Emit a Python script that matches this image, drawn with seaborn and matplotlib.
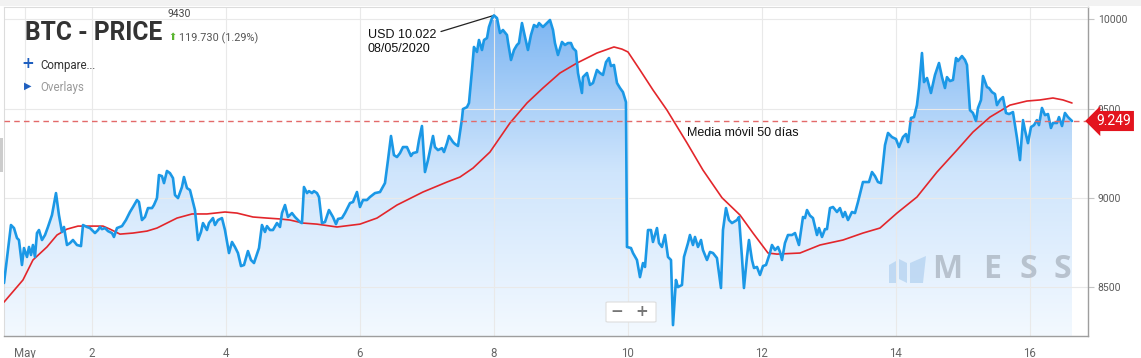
import matplotlib
matplotlib.use('Agg')
import matplotlib.pyplot as plt
import matplotlib.transforms as mtransforms
from matplotlib.colors import LinearSegmentedColormap
from matplotlib.patches import Polygon, Rectangle, FancyBboxPatch
import numpy as np
import pandas as pd
import seaborn as sns

# BTC price (day of May 2020, USD)
price_day = [0.687, 0.791, 0.836, 0.881, 0.910, 0.955, 0.985, 1.030, 1.060, 1.090,
             1.119, 1.149, 1.179, 1.209, 1.254, 1.299, 1.343, 1.403, 1.463, 1.507,
             1.552, 1.582, 1.627, 1.672, 1.716, 1.776, 1.836, 1.866, 1.925, 1.970,
             2.045, 2.090, 2.119, 2.149, 2.194, 2.239, 2.299, 2.328, 2.373, 2.448,
             2.507, 2.567, 2.612, 2.672, 2.701, 2.746, 2.791, 2.836, 2.896, 2.925,
             2.970, 3.000, 3.045, 3.075, 3.119, 3.164, 3.209, 3.239, 3.284, 3.343,
             3.373, 3.418, 3.463, 3.537, 3.582, 3.627, 3.657, 3.716, 3.746, 3.806,
             3.836, 3.881, 3.940, 3.985, 4.045, 4.090, 4.134, 4.179, 4.224, 4.269,
             4.328, 4.373, 4.418, 4.493, 4.537, 4.582, 4.612, 4.657, 4.701, 4.761,
             4.806, 4.836, 4.881, 4.925, 4.985, 5.030, 5.104, 5.134, 5.164, 5.209,
             5.239, 5.284, 5.313, 5.358, 5.388, 5.433, 5.478, 5.537, 5.597, 5.642,
             5.672, 5.731, 5.776, 5.851, 5.896, 5.955, 6.000, 6.045, 6.104, 6.149,
             6.224, 6.299, 6.373, 6.418, 6.463, 6.507, 6.552, 6.597, 6.642, 6.701,
             6.761, 6.791, 6.851, 6.881, 6.925, 6.970, 7.015, 7.090, 7.119, 7.164,
             7.224, 7.254, 7.299, 7.328, 7.388, 7.418, 7.463, 7.522, 7.537, 7.597,
             7.627, 7.672, 7.701, 7.746, 7.776, 7.821, 7.851, 7.896, 7.925, 7.970,
             8.000, 8.045, 8.090, 8.134, 8.194, 8.209, 8.254, 8.299, 8.343, 8.373,
             8.418, 8.463, 8.507, 8.552, 8.597, 8.642, 8.672, 8.731, 8.791, 8.836,
             8.881, 8.910, 8.955, 9.015, 9.060, 9.104, 9.149, 9.179, 9.224, 9.254,
             9.313, 9.328, 9.388, 9.433, 9.478, 9.537, 9.582, 9.627, 9.672, 9.716,
             9.746, 9.791, 9.836, 9.881, 9.925, 9.970, 9.985, 10.045, 10.075, 10.134,
             10.179, 10.224, 10.254, 10.299, 10.343, 10.373, 10.433, 10.463, 10.507, 10.552,
             10.597, 10.642, 10.672, 10.716, 10.746, 10.806, 10.836, 10.896, 10.925, 10.970,
             11.000, 11.045, 11.090, 11.119, 11.179, 11.224, 11.269, 11.328, 11.388, 11.418,
             11.463, 11.507, 11.552, 11.627, 11.657, 11.701, 11.731, 11.776, 11.806, 11.851,
             11.881, 11.925, 11.970, 12.015, 12.060, 12.119, 12.149, 12.194, 12.239, 12.269,
             12.299, 12.343, 12.388, 12.448, 12.493, 12.552, 12.612, 12.642, 12.672, 12.716,
             12.761, 12.821, 12.851, 12.896, 12.940, 12.970, 13.015, 13.060, 13.119, 13.164,
             13.209, 13.239, 13.284, 13.343, 13.388, 13.433, 13.507, 13.567, 13.597, 13.642,
             13.687, 13.731, 13.776, 13.836, 13.881, 13.940, 14.000, 14.045, 14.104, 14.149,
             14.179, 14.224, 14.269, 14.313, 14.343, 14.388, 14.418, 14.463, 14.522, 14.582,
             14.642, 14.687, 14.731, 14.761, 14.806, 14.851, 14.896, 14.925, 14.985, 15.030,
             15.060, 15.104, 15.149, 15.194, 15.224, 15.269, 15.299, 15.358, 15.388, 15.433,
             15.478, 15.507, 15.552, 15.597, 15.642, 15.687, 15.746, 15.806, 15.851, 15.896,
             15.925, 15.970, 16.015, 16.060, 16.104, 16.134, 16.179, 16.224, 16.269, 16.313,
             16.343, 16.403, 16.433, 16.478, 16.522, 16.567, 16.627]
price_usd = [8522, 8847, 8830, 8774, 8763, 8623, 8718, 8668, 8724, 8679,
             8735, 8668, 8802, 8819, 8763, 8791, 8836, 8903, 9026, 8903,
             8808, 8836, 8735, 8746, 8763, 8735, 8729, 8847, 8836, 8830,
             8802, 8819, 8836, 8824, 8830, 8813, 8802, 8780, 8830, 8841,
             8875, 8920, 8948, 8987, 8976, 8875, 8892, 8942, 8942, 8959,
             8998, 9127, 9121, 9082, 9150, 9138, 9110, 9015, 8998, 9060,
             9116, 9054, 9043, 8931, 8763, 8808, 8858, 8819, 8858, 8886,
             8847, 8875, 8886, 8819, 8690, 8752, 8724, 8690, 8617, 8623,
             8701, 8651, 8634, 8718, 8847, 8808, 8841, 8819, 8819, 8858,
             8836, 8914, 8959, 8892, 8914, 8892, 8864, 8858, 9060, 9026,
             9037, 9026, 9037, 9026, 9004, 8858, 8864, 8931, 8892, 8852,
             8881, 8886, 8914, 8970, 8976, 9032, 8948, 8987, 8987, 9004,
             9026, 9032, 9082, 9211, 9346, 9239, 9228, 9250, 9284, 9284,
             9234, 9250, 9256, 9323, 9402, 9144, 9211, 9346, 9284, 9267,
             9278, 9256, 9306, 9346, 9312, 9301, 9290, 9441, 9497, 9508,
             9531, 9716, 9845, 9817, 9884, 9828, 9884, 9895, 9957, 10007,
             10022, 10007, 9923, 9940, 9912, 9873, 9772, 9828, 9856, 9867,
             9979, 9901, 9828, 9912, 9968, 9957, 9979, 9957, 9979, 9996,
             9940, 9867, 9800, 9873, 9856, 9867, 9867, 9839, 9822, 9699,
             9587, 9676, 9699, 9632, 9643, 9716, 9699, 9688, 9760, 9783,
             9738, 9744, 9643, 9615, 9592, 9536, 8724, 8718, 8690, 8651,
             8555, 8634, 8612, 8819, 8819, 8752, 8830, 8746, 8724, 8791,
             8668, 8651, 8286, 8539, 8499, 8511, 8668, 8746, 8791, 8735,
             8780, 8724, 8763, 8707, 8651, 8696, 8690, 8662, 8494, 8819,
             8942, 8875, 8858, 8875, 8892, 8668, 8494, 8668, 8763, 8651,
             8606, 8612, 8567, 8617, 8623, 8690, 8735, 8707, 8724, 8696,
             8651, 8746, 8791, 8791, 8802, 8735, 8892, 8886, 8931, 8900,
             8886, 8791, 8830, 8780, 8824, 8824, 8942, 8948, 8920, 8942,
             8892, 8920, 8875, 8920, 8914, 8976, 9088, 9088, 9088, 9144,
             9121, 9088, 9082, 9295, 9363, 9340, 9329, 9284, 9340, 9357,
             9312, 9447, 9452, 9519, 9615, 9811, 9648, 9671, 9587, 9688,
             9755, 9676, 9615, 9676, 9654, 9660, 9783, 9766, 9794, 9772,
             9744, 9491, 9475, 9430, 9503, 9548, 9682, 9620, 9615, 9592,
             9581, 9519, 9548, 9564, 9475, 9469, 9480, 9335, 9211, 9435,
             9379, 9306, 9396, 9407, 9435, 9407, 9503, 9463, 9469, 9391,
             9419, 9419, 9452, 9402, 9475, 9452, 9430]

# 50-day moving average
ma_day = [0.687, 0.970, 1.119, 1.328, 1.478, 1.627, 1.791, 1.970, 2.164, 2.269,
          2.418, 2.612, 2.821, 2.970, 3.119, 3.269, 3.493, 3.716, 3.985, 4.164,
          4.403, 4.612, 4.806, 4.955, 5.149, 5.358, 5.657, 6.000, 6.254, 6.552,
          6.940, 7.299, 7.493, 7.687, 7.940, 8.239, 8.493, 8.731, 8.985, 9.239,
          9.537, 9.791, 9.910, 10.000, 10.179, 10.373, 10.582, 10.881, 11.119, 11.403,
          11.672, 11.866, 12.090, 12.224, 12.567, 12.866, 13.209, 13.507, 13.761, 14.015,
          14.313, 14.612, 14.910, 15.149, 15.403, 15.701, 15.955, 16.149, 16.343, 16.493,
          16.627]
ma_usd = [8415, 8539, 8651, 8724, 8791, 8824, 8841, 8841, 8841, 8824,
          8796, 8802, 8813, 8830, 8858, 8886, 8909, 8909, 8920, 8914,
          8892, 8886, 8881, 8875, 8858, 8852, 8836, 8852, 8886, 8959,
          9032, 9088, 9116, 9166, 9256, 9419, 9531, 9615, 9699, 9755,
          9811, 9845, 9833, 9817, 9716, 9604, 9491, 9307, 9155, 9000,
          8903, 8802, 8690, 8684, 8690, 8735, 8763, 8802, 8830, 8914,
          9004, 9144, 9267, 9368, 9452, 9519, 9542, 9548, 9559, 9548,
          9531]

x_ticks = [1, 2, 4, 6, 8, 10, 12, 14, 16]
x_tick_labels = ['May', '2', '4', '6', '8', '10', '12', '14', '16']
y_ticks = [8500, 9000, 9500, 10000]
last_price = 9430
last_price_label = '9.249'
peak_day = 8.0
peak_usd = 10022
peak_label = 'USD 10.022\n08/05/2020'
ma_label = 'Media móvil 50 días'

W, H = 1141, 358


def px(x, y):
    # figure pixel (from top-left) -> figure fraction
    return x / W, 1 - y / H


sns.set_style('white')
plt.rcParams['font.family'] = ['Roboto', 'DejaVu Sans']

df = pd.DataFrame({'day': price_day, 'usd': price_usd})
ma = pd.DataFrame({'day': ma_day, 'usd': ma_usd})

fig = plt.figure(figsize=(W / 100, H / 100), dpi=100, facecolor='white')
ax = fig.add_axes([4 / W, 22 / H, 1084 / W, 329 / H])
ax.set_facecolor('white')

xlim = (0.687, 16.866)
ylim = (8225, 10069)

# gradient area under the price line
poly_xy = np.column_stack([[price_day[0]] + price_day + [price_day[-1]],
                           [ylim[0]] + price_usd + [ylim[0]]])
clip = Polygon(poly_xy, closed=True, fc='none', ec='none')
ax.add_patch(clip)
cmap = LinearSegmentedColormap.from_list('fill', ['#f3f9ff', '#cfe5fc', '#78b3f2'])
grad = np.linspace(0, 1, 256).reshape(-1, 1)
im = ax.imshow(grad, cmap=cmap, aspect='auto', origin='lower',
               extent=[xlim[0], xlim[1], ylim[0], ylim[1]], zorder=1)
im.set_clip_path(clip)

sns.lineplot(data=ma, x='day', y='usd', ax=ax, color='#e3262b', lw=1.2,
             estimator=None, zorder=3)
sns.lineplot(data=df, x='day', y='usd', ax=ax, color='#1b98e6', lw=1.9,
             estimator=None, zorder=4)

ax.axhline(last_price, color='#e36a6a', lw=1.0, ls=(0, (4, 3)), zorder=5)

ax.set_xlim(*xlim)
ax.set_ylim(*ylim)
ax.set_xlabel('')
ax.set_ylabel('')
ax.set_xticks(x_ticks)
ax.set_xticklabels(x_tick_labels)
ax.set_yticks(y_ticks)
ax.yaxis.tick_right()
ax.set_axisbelow('line')
ax.grid(True, color='#e9e9e9', lw=0.8)
ax.tick_params(axis='x', length=5, color='#c4c4c4', labelcolor='#666666',
               labelsize=8.3, pad=3)
ax.tick_params(axis='y', length=4, color='#c4c4c4', labelcolor='#5a5a5a',
               labelsize=7.5, pad=3)
for side in ['top', 'left']:
    ax.spines[side].set_color('#dcdcdc')
    ax.spines[side].set_linewidth(0.8)
for side in ['right', 'bottom']:
    ax.spines[side].set_color('#9e9e9e')
    ax.spines[side].set_linewidth(1.0)

# last price tag
trans = mtransforms.blended_transform_factory(ax.transAxes, ax.transData)
ax.text(1.0075, last_price, last_price_label, transform=trans, ha='left', va='center',
        color='white', fontsize=10, zorder=6, clip_on=False,
        bbox=dict(boxstyle='larrow,pad=0.22', fc='#e3141e', ec='none'))

# peak annotation
ax.annotate(peak_label, xy=(peak_day, peak_usd), xycoords='data',
            xytext=(368, H - 29), textcoords='figure pixels', ha='left', va='top',
            fontsize=9, family='Liberation Sans', color='#111111', linespacing=1.25,
            arrowprops=dict(arrowstyle='-', color='#222222', lw=0.9,
                            shrinkA=1, shrinkB=0, relpos=(1.0, 0.85)))

fig.text(*px(687, 133), ma_label, fontsize=9, family='Liberation Sans',
         color='#111111', ha='left', va='center')

# header texts
fig.text(*px(25, 40), 'BTC - PRICE', fontsize=17.7, fontweight='bold',
         color='#333333', ha='left', va='baseline')
fig.text(*px(167, 17), '9430', fontsize=7.5, color='#444444', ha='left', va='baseline')
fig.text(*px(168, 37), '⬆', fontsize=7, color='#5cb531', ha='left', va='center',
         family='DejaVu Sans')
fig.text(*px(179, 41), '119.730 (1.29%)', fontsize=7.8, color='#555555',
         ha='left', va='baseline')
fig.text(*px(28, 64), '+', fontsize=11, fontweight='bold', color='#1f5fbf',
         ha='center', va='center', family='DejaVu Sans')
fig.text(*px(40, 65), 'Compare...', fontsize=8.3, color='#333333', ha='left', va='center')
fig.text(*px(28, 86), '▶', fontsize=7, color='#1f5fbf', ha='center', va='center',
         family='DejaVu Sans')
fig.text(*px(40, 88), 'Overlays', fontsize=8.3, color='#9a9a9a', ha='left', va='center')

# watermark
for letter, cx in zip('MESS', [947, 992, 1028, 1062]):
    fig.text(*px(cx, 269), letter, fontsize=23, fontweight='bold', family='Open Sans',
             color='#a9b3bf', alpha=0.75, ha='center', va='center')
logo = [[(889, 265), (896, 261), (896, 283), (889, 283)],
        [(899, 259), (907, 263), (907, 283), (899, 279)],
        [(910, 263), (926, 256), (923, 283), (910, 283)]]
for shape in logo:
    fig.patches.append(Polygon([px(x, y) for x, y in shape], closed=True,
                               transform=fig.transFigure, fc='#b7d4f1', ec='none',
                               alpha=0.8, zorder=5))

# zoom buttons
fig.patches.append(FancyBboxPatch(px(606, 322), 50 / W, 20 / H,
                                  boxstyle='round,pad=0,rounding_size=0.002',
                                  transform=fig.transFigure, fc='white',
                                  ec='#dddddd', lw=0.8, zorder=5))
fig.text(*px(617, 312), '−', fontsize=11, fontweight='bold', color='#777777',
         ha='center', va='center', family='DejaVu Sans', zorder=6)
fig.text(*px(642, 312), '+', fontsize=11, fontweight='bold', color='#777777',
         ha='center', va='center', family='DejaVu Sans', zorder=6)

# page chrome
fig.patches.append(Rectangle(px(0, 6), 1, 6 / H, transform=fig.transFigure,
                             fc='#f2f2f2', ec='none', zorder=0))
fig.patches.append(Rectangle(px(0, 172), 3 / W, 34 / H, transform=fig.transFigure,
                             fc='#cccccc', ec='none', zorder=0))

fig.savefig('out.png', dpi=100, facecolor='white')
